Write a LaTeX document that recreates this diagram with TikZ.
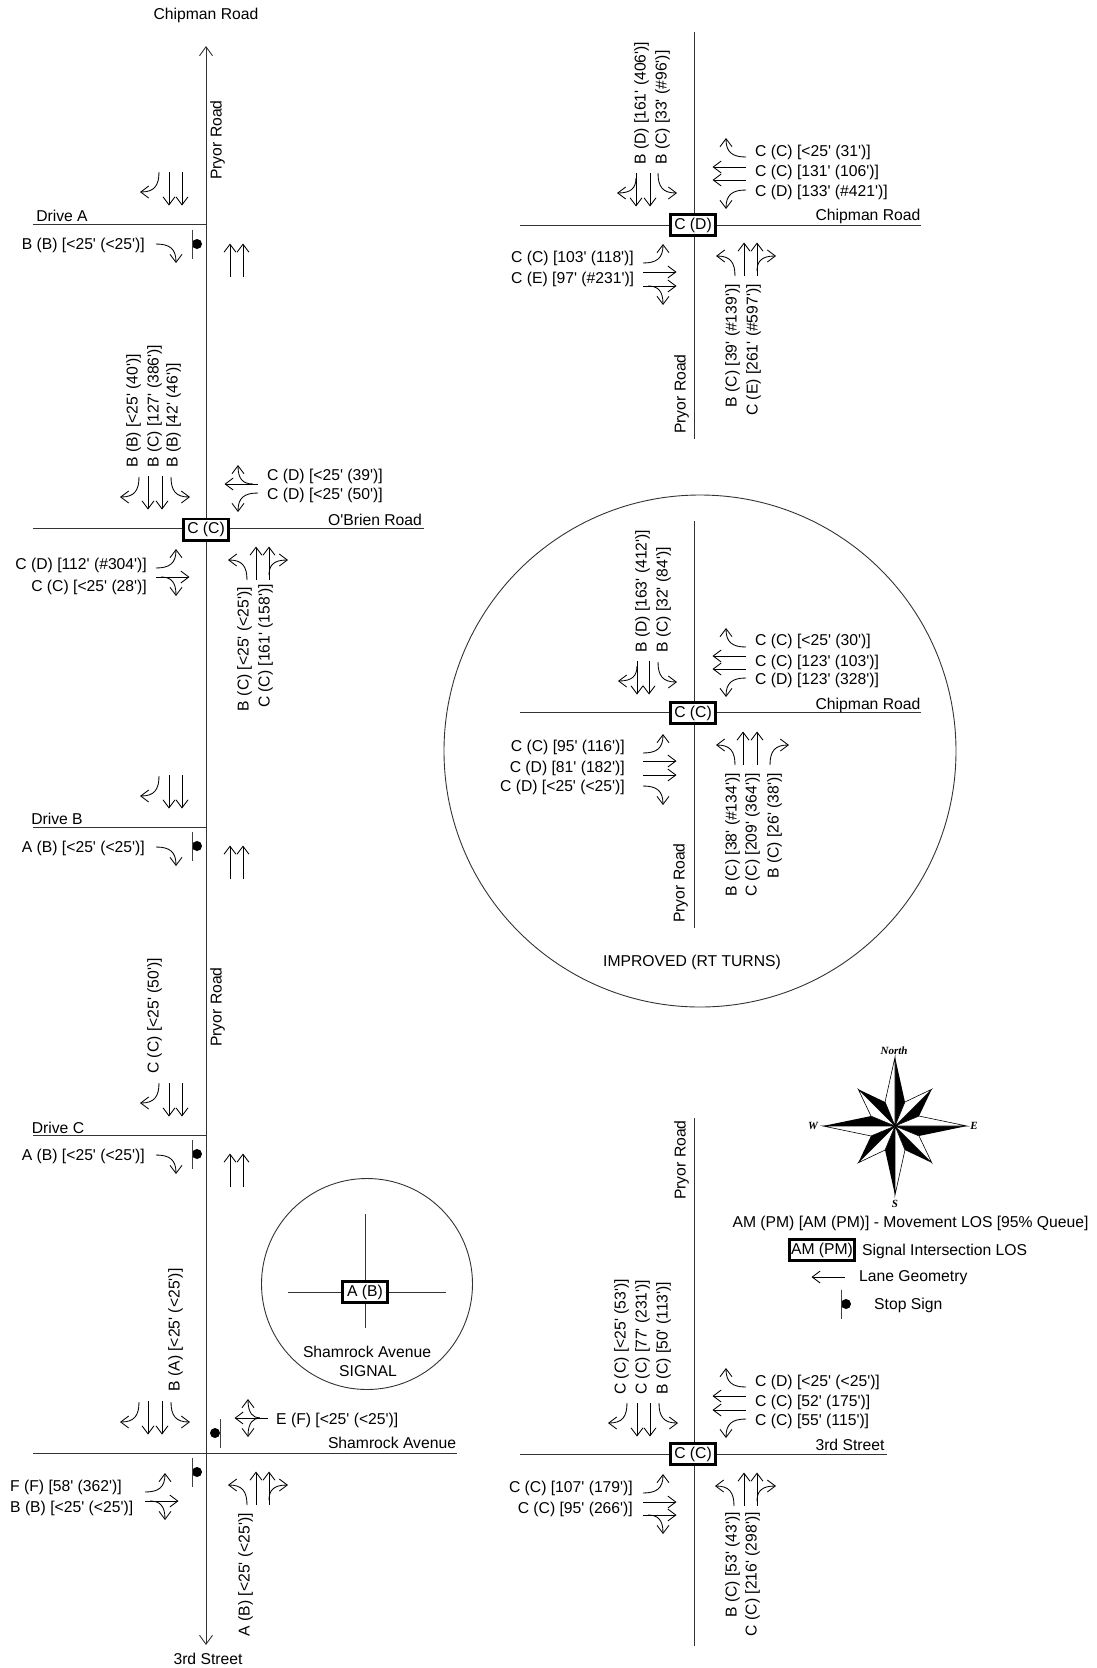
\documentclass[tikz,border=0pt]{standalone}
\usepackage{fontspec}
\newfontfamily\lblfont{Liberation Sans}
\newfontfamily\compassfont{Liberation Serif}
\usetikzlibrary{arrows.meta}
\tikzset{
  pics/thru/.style={code={\draw[lane] (0,0) -- (0,-33.5);}},
  pics/lft/.style={code={\draw[lane] (0,0) .. controls (0,-14) and (-5,-20) .. (-19,-20);}},
  pics/rgt/.style={code={\draw[lane] (0,0) .. controls (0,-14) and (5,-20) .. (19,-20);}},
  pics/thrulft/.style={code={\draw[lane] (0,0) -- (0,-33.5); \draw[lane] (0,-5) .. controls (0,-15) and (-5,-20) .. (-19,-20);}},
  pics/thrurgt/.style={code={\draw[lane] (0,0) -- (0,-33.5); \draw[lane] (0,-5) .. controls (0,-15) and (5,-20) .. (19,-20);}},
  pics/thruall/.style={code={\draw[lane] (0,0) -- (0,-33.5); \draw[lane] (0,-8) .. controls (0,-15) and (-5,-20) .. (-19,-20); \draw[lane] (0,-8) .. controls (0,-15) and (5,-20) .. (19,-20);}},
  pics/stopsign/.style={code={\fill (0,0) circle (5); \draw[line width=0.9pt, black!75] (-5,-14.5) -- (-5,14.5);}}
}
\begin{document}
\begin{tikzpicture}[x=1pt, y=-1pt,
    lane/.style={-{Straight Barb[length=8pt,width=12pt]}, line width=0.85pt, black},
    road/.style={line width=0.9pt, black!80},
    lbl/.style={font=\lblfont\fontsize{15.7}{18}\selectfont, inner sep=0pt, text height=11.2pt, text depth=0pt},
    rl/.style={lbl, anchor=east},
    ll/.style={lbl, anchor=west},
    up/.style={lbl, rotate=90, anchor=west},
    dn/.style={lbl, rotate=90, anchor=east},
    los/.style={draw, line width=2.6pt, fill=white, minimum width=45.4pt, minimum height=21.4pt, inner sep=0pt, font=\lblfont\fontsize{15.7}{18}\selectfont, text height=11.2pt, text depth=3pt},
    ring/.style={circle, draw, line width=0.9pt, black!80, inner sep=0pt},
    cmp/.style={font=\compassfont\fontsize{11}{12}\selectfont\bfseries\itshape, inner sep=0pt}
]
\useasboundingbox (0,0) rectangle (1097,1668);
% pryor road main line
\coordinate (ptop) at (206,46);
\coordinate (pbot) at (206,1645);
\draw[road, {Straight Barb[length=9pt,width=13pt]}-{Straight Barb[length=9pt,width=13pt]}] (ptop) -- (pbot);
\node[lbl] (chipn) at (206,14) {Chipman Road};
\node[lbl] (third) at (208,1659) {3rd Street};
\node[lbl, rotate=90] (pryor1) at (216,140) {Pryor Road};
\node[lbl, rotate=90] (pryor2) at (216,1007) {Pryor Road};
% drive a
\coordinate (daw) at (33,224);
\coordinate (dae) at (206,224);
\draw[road] (daw) -- (dae);
\node[lbl] (dalbl) at (62,216) {Drive A};
\node[rl] (daeb) at (145,244) {B (B) [<25' (<25')]};
\pic[rotate=-90] at (156,244) {rgt};
\pic at (197,244) {stopsign};
\pic[rotate=180] at (159,172) {rgt};
\pic[rotate=180] at (169,172) {thru};
\pic[rotate=180] at (182,172) {thru};
\pic at (230,277) {thru};
\pic at (243,277) {thru};
% o'brien road
\coordinate (obw) at (33,528);
\coordinate (obe) at (424,528);
\draw[road] (obw) -- (obe);
\node[los] (oblos) at (206,529.5) {C (C)};
\node[lbl] (oblbl) at (375,520) {O'Brien Road};
\pic[rotate=180] at (139,477) {rgt};
\pic[rotate=180] at (148,476) {thru};
\pic[rotate=180] at (162,476) {thru};
\pic[rotate=180] at (171,477) {lft};
\node[up] (obs1) at (132,468) {B (B) [<25' (40')]};
\node[up] (obs2) at (153,468) {B (C) [127' (386')]};
\node[up] (obs3) at (172,468) {B (B) [42' (46')]};
\pic[rotate=90] at (258,484) {thrurgt};
\pic[rotate=90] at (258,493) {lft};
\node[ll] (obw1) at (267,475) {C (D) [<25' (39')]};
\node[ll] (obw2) at (267,494) {C (D) [<25' (50')]};
\pic[rotate=-90] at (156,568) {lft};
\pic[rotate=-90] at (156,577) {thrurgt};
\node[rl] (obe1) at (147,564) {C (D) [112' (\#304')]};
\node[rl] (obe2) at (147,586) {C (C) [<25' (28')]};
\pic at (247,580) {lft};
\pic at (256,580) {thru};
\pic at (269,580) {thrurgt};
\node[dn] (obn1) at (243,587) {B (C) [<25' (<25')]};
\node[dn] (obn2) at (264,584) {C (C) [161' (158')]};
% drive b
\coordinate (dbw) at (33,827);
\coordinate (dbe) at (206,827);
\draw[road] (dbw) -- (dbe);
\node[lbl] (dblbl) at (57,819) {Drive B};
\node[rl] (dbeb) at (145,847) {A (B) [<25' (<25')]};
\pic[rotate=-90] at (156,847) {rgt};
\pic at (197,846) {stopsign};
\pic[rotate=180] at (159,776) {rgt};
\pic[rotate=180] at (169,775) {thru};
\pic[rotate=180] at (182,775) {thru};
\pic at (230,879) {thru};
\pic at (243,879) {thru};
\node[lbl, rotate=90] (dbs) at (153,1016) {C (C) [<25' (50')]};
% drive c
\coordinate (dcw) at (33,1135);
\coordinate (dce) at (206,1135);
\draw[road] (dcw) -- (dce);
\node[lbl] (dclbl) at (58,1128) {Drive C};
\node[rl] (dceb) at (145,1155) {A (B) [<25' (<25')]};
\pic[rotate=-90] at (156,1155) {rgt};
\pic at (197,1154) {stopsign};
\pic[rotate=180] at (159,1083) {rgt};
\pic[rotate=180] at (169,1083) {thru};
\pic[rotate=180] at (182,1083) {thru};
\pic at (230,1187) {thru};
\pic at (243,1187) {thru};
\node[lbl, rotate=90] (dcs) at (174,1330) {B (A) [<25' (<25')]};
% shamrock inset
\node[ring, minimum size=211pt] (shring) at (367,1284) {};
\coordinate (shiw) at (288,1292);
\coordinate (shie) at (446,1292);
\coordinate (shin) at (365,1214);
\coordinate (shis) at (365,1328);
\draw[road] (shiw) -- (shie);
\draw[road] (shin) -- (shis);
\node[los] (shlos) at (365,1292) {A (B)};
\node[lbl] (shname) at (367,1352) {Shamrock Avenue};
\node[lbl] (shsig) at (368,1371) {SIGNAL};
% shamrock avenue
\coordinate (shw) at (33,1453);
\coordinate (she) at (457,1453);
\draw[road] (shw) -- (she);
\node[lbl] (shlbl) at (392,1443) {Shamrock Avenue};
\pic[rotate=180] at (139,1402) {rgt};
\pic[rotate=180] at (148,1401) {thru};
\pic[rotate=180] at (162,1401) {thru};
\pic[rotate=180] at (171,1402) {lft};
\pic[rotate=180] at (215,1433) {stopsign};
\pic[rotate=90] at (268,1418) {thruall};
\node[ll] (shw1) at (276,1419) {E (F) [<25' (<25')]};
\pic at (197,1472) {stopsign};
\pic[rotate=-90] at (145,1492) {lft};
\pic[rotate=-90] at (145,1501) {thrurgt};
\node[ll] (she1) at (10,1486) {F (F) [58' (362')]};
\node[ll] (she2) at (10,1507) {B (B) [<25' (<25')]};
\pic at (247,1505) {lft};
\pic at (256,1505) {thru};
\pic at (269,1505) {thrurgt};
\node[dn] (shn1) at (244,1513) {A (B) [<25' (<25')]};
% chipman road
\coordinate (cpn) at (694,32);
\coordinate (cps) at (694,439);
\coordinate (cpw) at (520,225);
\coordinate (cpe) at (921,225);
\draw[road] (cpn) -- (cps);
\draw[road] (cpw) -- (cpe);
\node[los] (cplos) at (693,225) {C (D)};
\node[lbl] (cplbl) at (868,215) {Chipman Road};
\node[lbl, rotate=90] (cppr) at (680,394) {Pryor Road};
\pic[rotate=180] at (636,173) {thrurgt};
\pic[rotate=180] at (650,173) {thru};
\pic[rotate=180] at (658,173) {lft};
\node[up] (cps1) at (640,165) {B (D) [161' (406')]};
\node[up] (cps2) at (661,165) {B (C) [33' (\#96')]};
\pic[rotate=90] at (746,157) {rgt};
\pic[rotate=90] at (746,167) {thru};
\pic[rotate=90] at (746,180) {thru};
\pic[rotate=90] at (746,190) {lft};
\node[ll] (cpw1) at (755,151) {C (C) [<25' (31')]};
\node[ll] (cpw2) at (755,171) {C (C) [131' (106')]};
\node[ll] (cpw3) at (755,191) {C (D) [133' (\#421')]};
\pic[rotate=-90] at (643,263) {lft};
\pic[rotate=-90] at (643,272) {thru};
\pic[rotate=-90] at (643,286) {thrurgt};
\node[ll] (cpe1) at (511,257) {C (C) [103' (118')]};
\node[ll] (cpe2) at (511,278) {C (E) [97' (\#231')]};
\pic at (735,276) {lft};
\pic at (744,276) {thru};
\pic at (757,276) {thrurgt};
\node[dn] (cpn1) at (731,284) {B (C) [39' (\#139')]};
\node[dn] (cpn2) at (752,284) {C (E) [261' (\#597')]};
% improved inset
\node[ring, minimum size=512pt] (imring) at (700,751) {};
\coordinate (imn) at (694,521);
\coordinate (ims) at (694,928);
\coordinate (imw) at (520,712);
\coordinate (ime) at (921,712);
\draw[road] (imn) -- (ims);
\draw[road] (imw) -- (ime);
\node[los] (imlos) at (693,713) {C (C)};
\node[lbl] (imlbl) at (868,704) {Chipman Road};
\node[lbl, rotate=90] (impr) at (679,883) {Pryor Road};
\node[lbl] (imname) at (692,961) {IMPROVED (RT TURNS)};
\pic[rotate=180] at (637,661) {thrurgt};
\pic[rotate=180] at (649,661) {thru};
\pic[rotate=180] at (658,662) {lft};
\node[up] (ims1) at (641,653) {B (D) [163' (412')]};
\node[up] (ims2) at (662,653) {B (C) [32' (84')]};
\pic[rotate=90] at (746,647) {rgt};
\pic[rotate=90] at (746,656) {thru};
\pic[rotate=90] at (746,669) {thru};
\pic[rotate=90] at (746,678) {lft};
\node[ll] (imw1) at (755,640) {C (C) [<25' (30')]};
\node[ll] (imw2) at (755,661) {C (C) [123' (103')]};
\node[ll] (imw3) at (755,679) {C (D) [123' (328')]};
\pic[rotate=-90] at (643,753) {lft};
\pic[rotate=-90] at (643,761) {thru};
\pic[rotate=-90] at (643,775) {thru};
\pic[rotate=-90] at (643,786) {rgt};
\node[rl] (ime1) at (625,746) {C (C) [95' (116')]};
\node[rl] (ime2) at (625,767) {C (D) [81' (182')]};
\node[rl] (ime3) at (625,786) {C (D) [<25' (<25')]};
\pic at (735,765) {lft};
\pic at (743,765) {thru};
\pic at (757,765) {thru};
\pic at (770,765) {rgt};
\node[dn] (imn1) at (731,773) {B (C) [38' (\#134')]};
\node[dn] (imn2) at (751,773) {C (C) [209' (364')]};
\node[dn] (imn3) at (773,773) {B (C) [26' (38')]};
% 3rd street
\coordinate (tsn) at (694,1118);
\coordinate (tss) at (694,1646);
\coordinate (tsw) at (520,1454);
\coordinate (tse) at (887,1454);
\draw[road] (tsn) -- (tss);
\draw[road] (tsw) -- (tse);
\node[los] (tslos) at (693,1454) {C (C)};
\node[lbl] (tslbl) at (850,1445) {3rd Street};
\node[lbl, rotate=90] (tspr) at (680,1160) {Pryor Road};
\pic[rotate=180] at (627,1403) {rgt};
\pic[rotate=180] at (637,1403) {thru};
\pic[rotate=180] at (650,1403) {thru};
\pic[rotate=180] at (659,1403) {lft};
\node[up] (tss1) at (620,1395) {C (C) [<25' (53')]};
\node[up] (tss2) at (641,1395) {C (C) [77' (231')]};
\node[up] (tss3) at (662,1395) {B (C) [50' (113')]};
\pic[rotate=90] at (746,1387) {rgt};
\pic[rotate=90] at (746,1396) {thru};
\pic[rotate=90] at (746,1410) {thru};
\pic[rotate=90] at (746,1419) {lft};
\node[ll] (tsw1) at (755,1381) {C (D) [<25' (<25')]};
\node[ll] (tsw2) at (755,1401) {C (C) [52' (175')]};
\node[ll] (tsw3) at (755,1420) {C (C) [55' (115')]};
\pic[rotate=-90] at (643,1493) {lft};
\pic[rotate=-90] at (643,1502) {thru};
\pic[rotate=-90] at (643,1515) {thrurgt};
\node[rl] (tse1) at (633,1487) {C (C) [107' (179')]};
\node[rl] (tse2) at (633,1508) {C (C) [95' (266')]};
\pic at (734,1506) {lft};
\pic at (744,1506) {thru};
\pic at (757,1506) {thrurgt};
\node[dn] (tsn1) at (731,1512) {B (C) [53' (43')]};
\node[dn] (tsn2) at (751,1512) {C (C) [216' (298')]};
% compass
\begin{scope}[shift={(895,1126)}]
\foreach \a/\r in {90/69,45/52,0/72,-45/52,-90/69,-135/52,180/72,135/52}{
  \fill[black] (0,0) -- (\a:\r pt) -- (\a-22.5:26pt) -- cycle;
  \draw[line width=0.6pt, fill=white] (0,0) -- (\a:\r pt) -- (\a+22.5:26pt) -- cycle;
}
\end{scope}
\node[cmp] (cmpn) at (894,1051) {North};
\node[cmp] (cmpw) at (813,1126) {W};
\node[cmp] (cmpe) at (974,1126) {E};
\node[cmp] (cmps) at (895,1204) {S};
% legend
\node[lbl] (lg1) at (910.5,1222) {AM (PM) [AM (PM)] - Movement LOS [95\% Queue]};
\node[los, minimum width=65.4pt] (lgbox) at (822,1250) {AM (PM)};
\node[ll] (lg2) at (862,1250) {Signal Intersection LOS};
\pic[rotate=90] at (845,1277) {thru};
\node[ll] (lg3) at (859,1276) {Lane Geometry};
\pic at (846,1304) {stopsign};
\node[ll] (lg4) at (874,1304) {Stop Sign};
\end{tikzpicture}
\end{document}
